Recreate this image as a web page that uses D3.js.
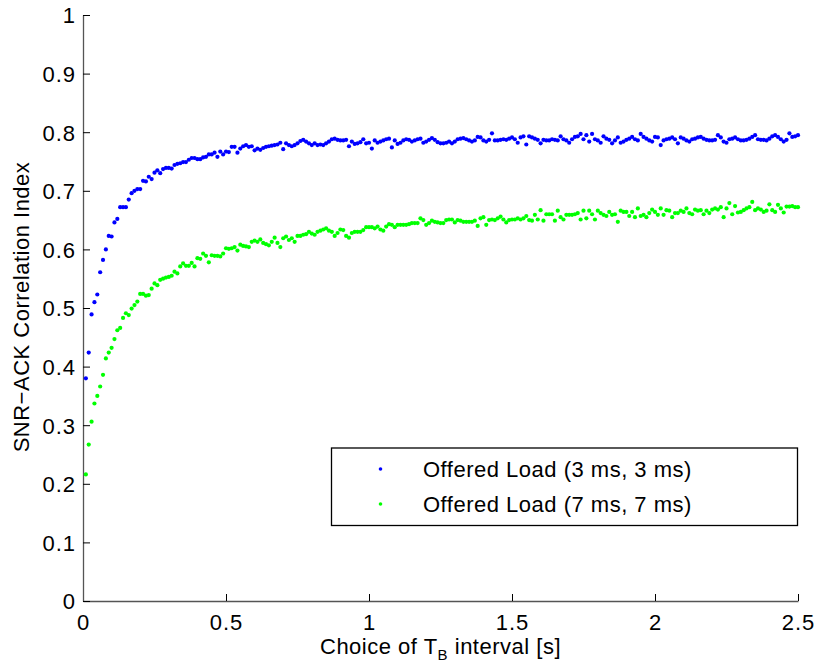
<!DOCTYPE html>
<html>
<head>
<meta charset="utf-8">
<script src="https://cdn.jsdelivr.net/npm/d3@7"></script>
<style>
  body { margin: 0; background: #fff; }
  text { font-family: "Liberation Sans", Arial, Helvetica, sans-serif; }
</style>
</head>
<body>
<div id="paper"></div>
<script>
// sample grid: 0.01 s .. 2.5 s
var tStep = 0.01;

var blueLabel = "Offered Load (3 ms, 3 ms)";
var greenLabel = "Offered Load (7 ms, 7 ms)";

var blueValues = [
  0.380,0.424,0.489,0.510,0.523,0.561,0.582,0.600,0.623,0.622,
  0.646,0.652,0.672,0.672,0.672,0.685,0.696,0.700,0.703,0.703,
  0.717,0.716,0.724,0.720,0.731,0.735,0.730,0.737,0.739,0.739,
  0.738,0.744,0.746,0.747,0.749,0.749,0.753,0.756,0.756,0.754,
  0.754,0.757,0.758,0.762,0.762,0.765,0.758,0.767,0.762,0.767,
  0.766,0.775,0.775,0.765,
  0.772,0.776,0.778,0.775,0.776,0.769,0.772,0.770,0.773,0.775,
  0.776,0.777,0.778,0.779,0.782,0.771,0.781,0.778,0.776,0.778,
  0.781,0.785,0.787,0.784,0.781,0.778,0.781,0.778,0.779,0.778,
  0.781,0.784,0.788,0.789,0.787,0.786,0.786,0.787,0.776,0.784,
  0.780,0.781,0.783,0.788,0.781,0.782,0.772,0.786,0.782,0.784,
  0.786,0.788,0.789,0.774,0.786,0.780,0.782,0.786,0.788,0.787,
  0.784,0.786,0.788,0.789,0.782,0.784,0.787,0.790,0.787,0.783,
  0.781,0.781,0.782,0.784,0.781,0.784,0.788,0.789,0.790,0.788,
  0.786,0.784,0.786,0.792,0.791,0.786,0.784,0.787,0.798,0.786,
  0.786,0.787,0.788,0.787,0.789,0.791,0.788,0.782,
  0.791,0.793,0.779,0.793,0.791,0.789,0.787,0.781,0.787,0.786,
  0.786,0.788,0.787,0.786,0.793,0.788,0.786,0.782,0.788,0.792,
  0.793,0.797,0.788,0.795,0.784,0.797,0.788,0.786,0.782,0.793,
  0.789,0.787,0.781,0.786,0.791,0.782,0.784,0.787,0.789,0.792,
  0.788,0.786,0.797,0.792,0.789,0.786,0.784,0.792,0.791,0.778,
  0.786,0.788,0.789,0.791,0.788,0.781,0.791,0.789,0.786,0.784,
  0.788,0.789,0.791,0.792,0.789,0.787,0.786,0.786,0.787,0.795,
  0.791,0.784,0.782,0.788,0.789,0.791,0.788,0.786,0.786,0.787,
  0.789,0.792,0.795,0.788,0.787,0.787,0.786,0.789,0.793,0.795,
  0.792,0.788,0.784,0.787,0.798,0.792,0.793,0.795
];

var greenValues = [
  0.216,0.267,0.306,0.337,0.350,0.366,0.386,0.414,0.424,0.432,
  0.447,0.462,0.466,0.483,0.491,0.488,0.499,0.505,0.511,0.524,
  0.524,0.521,0.522,0.533,0.542,0.539,0.548,0.550,0.552,0.553,
  0.555,0.562,0.559,0.571,0.576,0.572,0.572,0.577,0.571,0.585,
  0.584,0.593,0.589,0.578,0.590,0.589,0.589,0.588,0.593,0.602,
  0.601,0.602,0.604,0.598,0.608,
  0.606,0.605,0.604,0.613,0.615,0.613,0.617,0.611,0.609,0.607,
  0.613,0.620,0.611,0.604,0.619,0.622,0.616,0.619,0.613,0.623,
  0.623,0.625,0.626,0.630,0.627,0.625,0.630,0.632,0.634,0.636,
  0.632,0.630,0.623,0.628,0.634,0.633,0.623,0.620,0.628,0.630,
  0.630,0.630,0.633,0.638,0.638,0.638,0.636,0.639,0.634,0.632,
  0.639,0.643,0.642,0.638,0.642,0.642,0.642,0.642,0.643,0.645,
  0.645,0.645,0.653,0.650,0.642,0.645,0.649,0.647,0.646,0.645,
  0.645,0.650,0.651,0.651,0.646,0.650,0.649,0.647,0.647,0.647,
  0.647,0.649,0.640,0.653,0.655,0.642,0.650,0.651,0.650,0.653,
  0.656,0.651,0.646,0.650,0.651,0.651,0.653,
  0.651,0.653,0.657,0.650,0.649,0.659,0.651,0.667,0.649,0.660,
  0.660,0.660,0.649,0.666,0.655,0.651,0.659,0.659,0.659,0.660,
  0.662,0.651,0.666,0.653,0.666,0.660,0.651,0.666,0.662,0.659,
  0.657,0.664,0.659,0.660,0.647,0.666,0.664,0.664,0.657,0.664,
  0.655,0.670,0.657,0.659,0.655,0.662,0.668,0.664,0.659,0.670,
  0.659,0.667,0.666,0.655,0.662,0.662,0.666,0.664,0.670,0.662,
  0.660,0.668,0.666,0.667,0.660,0.666,0.662,0.668,0.670,0.668,
  0.672,0.655,0.670,0.679,0.660,0.674,0.663,0.664,0.667,0.670,
  0.672,0.681,0.667,0.670,0.668,0.664,0.666,0.677,0.667,0.664,
  0.676,0.670,0.663,0.673,0.673,0.674,0.672,0.672
];

var xTicks = [0, 0.5, 1, 1.5, 2, 2.5];
var yTicks = [0, 0.1, 0.2, 0.3, 0.4, 0.5, 0.6, 0.7, 0.8, 0.9, 1];

var width = 817,
    height = 662,
    plotLeft = 83, plotRight = 798, plotTop = 15, plotBottom = 601;

var svg = d3.select("#paper").append("svg")
    .attr("width", width)
    .attr("height", height);

svg.append("rect").attr("width", width).attr("height", height).attr("fill", "#fff");

var x = d3.scaleLinear().domain([0, 2.5]).range([plotLeft, plotRight]);
var y = d3.scaleLinear().domain([0, 1]).range([plotBottom, plotTop]);

var fmt = function(d) { return String(d); };

var gx = svg.append("g")
    .attr("transform", "translate(0," + plotBottom + ")")
    .call(d3.axisBottom(x).tickValues(xTicks).tickFormat(fmt)
      .tickSizeInner(-7).tickSizeOuter(0).tickPadding(13));

var gy = svg.append("g")
    .attr("transform", "translate(" + plotLeft + ",0)")
    .call(d3.axisLeft(y).tickValues(yTicks).tickFormat(fmt)
      .tickSizeInner(-7).tickSizeOuter(0).tickPadding(7));

[gx, gy].forEach(function(g) {
  g.select(".domain").attr("stroke", "#555").attr("stroke-width", 1.3);
  g.selectAll(".tick line").attr("stroke", "#000").attr("stroke-width", 1);
  g.selectAll(".tick text")
    .attr("fill", "#000")
    .style("font-size", "22px")
    .style("letter-spacing", "1px");
});
gx.selectAll(".tick text").attr("dy", "0.71em");
gy.selectAll(".tick text").attr("dy", "0.36em");

var pintar = function(values, color) {
  svg.append("g").selectAll("circle")
    .data(values)
    .join("circle")
    .attr("cx", function(d, i) { return x((i + 1) * tStep); })
    .attr("cy", function(d) { return y(d); })
    .attr("r", 2.1)
    .attr("fill", color);
};

pintar(blueValues, "#0000ff");
pintar(greenValues, "#00ff00");

// legend
var legend = svg.append("g");
legend.append("rect")
    .attr("x", 331.5).attr("y", 448)
    .attr("width", 466).attr("height", 77.5)
    .attr("fill", "#fff").attr("stroke", "#000").attr("stroke-width", 1.3);

var entries = [
  {label: blueLabel, color: "#0000ff", cy: 469},
  {label: greenLabel, color: "#00ff00", cy: 504}
];
entries.forEach(function(e) {
  legend.append("circle").attr("cx", 380.5).attr("cy", e.cy).attr("r", 1.8).attr("fill", e.color);
  legend.append("text")
    .attr("x", 423).attr("y", e.cy + 8)
    .style("font-size", "22px")
    .style("letter-spacing", "0.5px")
    .text(e.label);
});

// axis labels
svg.append("text")
    .attr("transform", "translate(29,307) rotate(-90)")
    .attr("text-anchor", "middle")
    .style("font-size", "22px")
    .style("letter-spacing", "0.5px")
    .text("SNR\u2212ACK Correlation Index");

var xl = svg.append("text")
    .attr("x", (plotLeft + plotRight) / 2)
    .attr("y", 654)
    .attr("text-anchor", "middle")
    .style("font-size", "22px")
    .style("letter-spacing", "0.5px");
xl.append("tspan").text("Choice of T");
xl.append("tspan").attr("dy", 6).style("font-size", "15px").text("B");
xl.append("tspan").attr("dy", -6).text(" interval [s]");
</script>
</body>
</html>
